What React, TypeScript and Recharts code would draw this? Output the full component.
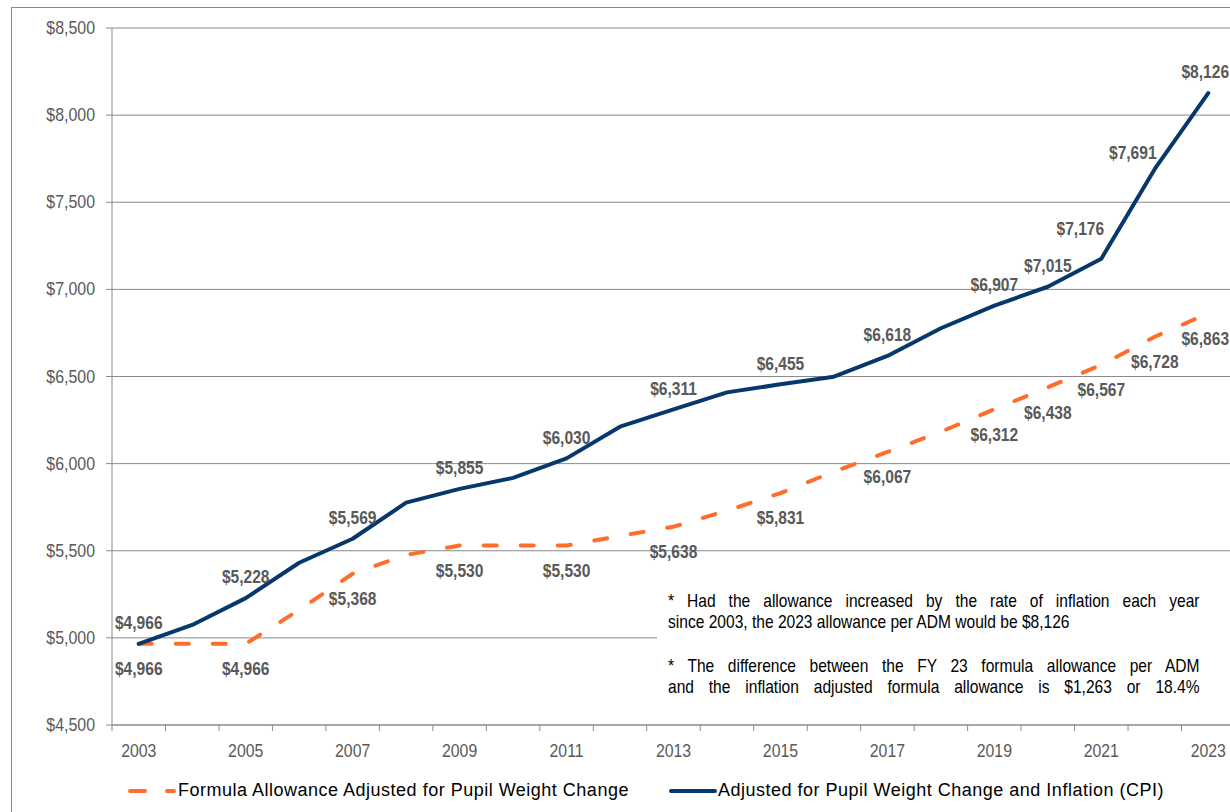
import {
  CartesianGrid,
  LabelList,
  Legend,
  Line,
  LineChart,
  XAxis,
  YAxis,
} from "recharts";

const years = [
  2003, 2004, 2005, 2006, 2007, 2008, 2009, 2010, 2011, 2012, 2013, 2014, 2015,
  2016, 2017, 2018, 2019, 2020, 2021, 2022, 2023,
];
const formulaValues = [
  4966, 4966, 4966, 5160, 5368, 5476, 5530, 5530, 5530, 5585, 5638, 5730, 5831,
  5954, 6067, 6183, 6312, 6438, 6567, 6728, 6863,
];
const inflationValues = [
  4966, 5074, 5228, 5431, 5569, 5776, 5855, 5918, 6030, 6212, 6311, 6409, 6455,
  6499, 6618, 6777, 6907, 7015, 7176, 7691, 8126,
];
const labeledYears = [
  2003, 2005, 2007, 2009, 2011, 2013, 2015, 2017, 2019, 2020, 2021, 2022, 2023,
];
const yTicks = [4500, 5000, 5500, 6000, 6500, 7000, 7500, 8000, 8500];
const yearLabels = [2003, 2005, 2007, 2009, 2011, 2013, 2015, 2017, 2019, 2021, 2023];

const formulaName = "Formula Allowance Adjusted for Pupil Weight Change";
const inflationName = "Adjusted for Pupil Weight Change and Inflation (CPI)";
const notes = [
  [
    "* Had the allowance increased by the rate of inflation each year",
    "since 2003, the 2023 allowance per ADM would be $8,126",
  ],
  [
    "* The difference between the FY 23 formula allowance per ADM",
    "and the inflation adjusted formula allowance is $1,263 or 18.4%",
  ],
];

const data = years.map((year, i) => ({
  year,
  formula: formulaValues[i],
  inflation: inflationValues[i],
}));

// tick marks sit between the years, labels on every other year
const xTicks = [
  ...years.map((y) => y - 0.5),
  years[years.length - 1] + 0.5,
  ...yearLabels,
].sort((a, b) => a - b);

const ORANGE = "#ff6d2a";
const BLUE = "#07386c";
const GRAY = "#595959";
const LINE_GRAY = "#8a8a8a";
const FONT = "Arial, 'Liberation Sans', sans-serif";

// the source chart's text is horizontally squeezed
const SQUEEZE = 0.88;

const money = (v: number) => "$" + v.toLocaleString("en-US");

const XTick = ({ x, y, payload }: any) => {
  const v = payload.value;
  if (Number.isInteger(v)) {
    return (
      <text
        transform={`translate(${x} ${y + 32}) scale(${SQUEEZE} 1)`}
        textAnchor="middle"
        fill={GRAY}
        fontSize={18}
        fontFamily={FONT}
      >
        {v}
      </text>
    );
  }
  return <line x1={x} x2={x} y1={y} y2={y + 6} stroke={LINE_GRAY} />;
};

const YTick = ({ x, y, payload }: any) => (
  <text
    transform={`translate(${x} ${y + 6}) scale(0.91 1)`}
    textAnchor="end"
    fill={GRAY}
    fontSize={17.5}
    fontFamily={FONT}
  >
    {money(payload.value)}
  </text>
);

const blueShift: Record<number, [number, number]> = {
  2021: [-21, -30],
  2022: [-22, -16],
  2023: [-3, -21],
};
const orangeShift: Record<number, [number, number]> = {
  2023: [-3, 25],
};

const makeLabel =
  (above: boolean) =>
  ({ x, y, value, index }: any) => {
    const year = years[index];
    if (!labeledYears.includes(year)) return null;
    const shift = above ? blueShift : orangeShift;
    const [dx, dy] = shift[year] ?? [0, above ? -21 : 25];
    return (
      <text
        transform={`translate(${x + dx} ${y + dy + 6.3}) scale(${SQUEEZE} 1)`}
        textAnchor="middle"
        fill={GRAY}
        fontSize={17.7}
        fontWeight="bold"
        fontFamily={FONT}
      >
        {money(value)}
      </text>
    );
  };

const legendText = {
  position: "absolute" as const,
  top: 15,
  whiteSpace: "nowrap" as const,
  fontSize: 18,
  letterSpacing: 0.5,
};

const ChartLegend = () => (
  <div style={{ position: "relative", height: 24, fontFamily: FONT, color: "#000" }}>
    <svg style={{ position: "absolute", left: 124, top: 20 }} width={56} height={12}>
      <line x1={6} x2={50} y1={6} y2={6} stroke={ORANGE} strokeWidth={4} strokeDasharray="15 22" strokeLinecap="round" />
    </svg>
    <span style={{ ...legendText, left: 178 }}>{formulaName}</span>
    <svg style={{ position: "absolute", left: 665, top: 20 }} width={56} height={12}>
      <line x1={6} x2={50} y1={6} y2={6} stroke={BLUE} strokeWidth={4} strokeLinecap="round" />
    </svg>
    <span style={{ ...legendText, left: 718 }}>{inflationName}</span>
  </div>
);

export default function App() {
  return (
    <div
      style={{
        position: "absolute",
        left: 0,
        top: 0,
        width: 1230,
        height: 812,
        overflow: "hidden",
        background: "#fff",
      }}
    >
      <div
        style={{
          position: "absolute",
          left: 11,
          top: 7,
          width: 1400,
          height: 1000,
          border: `1px solid ${LINE_GRAY}`,
        }}
      />
      <LineChart
        width={1240}
        height={812}
        data={data}
        margin={{ top: 28, right: 5, left: 0, bottom: 23 }}
        style={{ position: "absolute", left: 0, top: 0 }}
      >
        <CartesianGrid vertical={false} stroke={LINE_GRAY} />
        <XAxis
          dataKey="year"
          type="number"
          domain={[2002.5, 2023.5]}
          ticks={xTicks}
          interval={0}
          tick={<XTick />}
          tickLine={false}
          tickSize={0}
          tickMargin={0}
          height={40}
          stroke={LINE_GRAY}
        />
        <YAxis
          domain={[4500, 8500]}
          ticks={yTicks}
          interval={0}
          width={112}
          tick={<YTick />}
          tickSize={6}
          tickMargin={11}
          stroke={LINE_GRAY}
        />
        <Legend verticalAlign="bottom" content={<ChartLegend />} />
        <Line
          type="linear"
          dataKey="formula"
          name={formulaName}
          stroke={ORANGE}
          strokeWidth={4}
          strokeDasharray="13 24"
          strokeLinecap="round"
          strokeLinejoin="round"
          dot={false}
          isAnimationActive={false}
        >
          <LabelList dataKey="formula" content={makeLabel(false)} />
        </Line>
        <Line
          type="linear"
          dataKey="inflation"
          name={inflationName}
          stroke={BLUE}
          strokeWidth={4}
          strokeLinecap="round"
          strokeLinejoin="round"
          dot={false}
          isAnimationActive={false}
        >
          <LabelList dataKey="inflation" content={makeLabel(true)} />
        </Line>
      </LineChart>
      <div
        style={{
          position: "absolute",
          left: 657,
          top: 586,
          width: 573,
          height: 118,
          background: "#fff",
        }}
      />
      {notes.map((para, p) => (
        <div
          key={p}
          style={{
            position: "absolute",
            left: 668,
            top: 591 + p * 65,
            width: 604,
            transform: "scaleX(0.88)",
            transformOrigin: "0 0",
            fontFamily: FONT,
            fontSize: 17.7,
            lineHeight: "20.5px",
            color: "#000",
          }}
        >
          {para.map((line, i) => (
            <div
              key={i}
              style={{
                whiteSpace: "pre",
                textAlign: "justify",
                textAlignLast: p === 0 && i === 1 ? "left" : "justify",
              }}
            >
              {line}
            </div>
          ))}
        </div>
      ))}
    </div>
  );
}
